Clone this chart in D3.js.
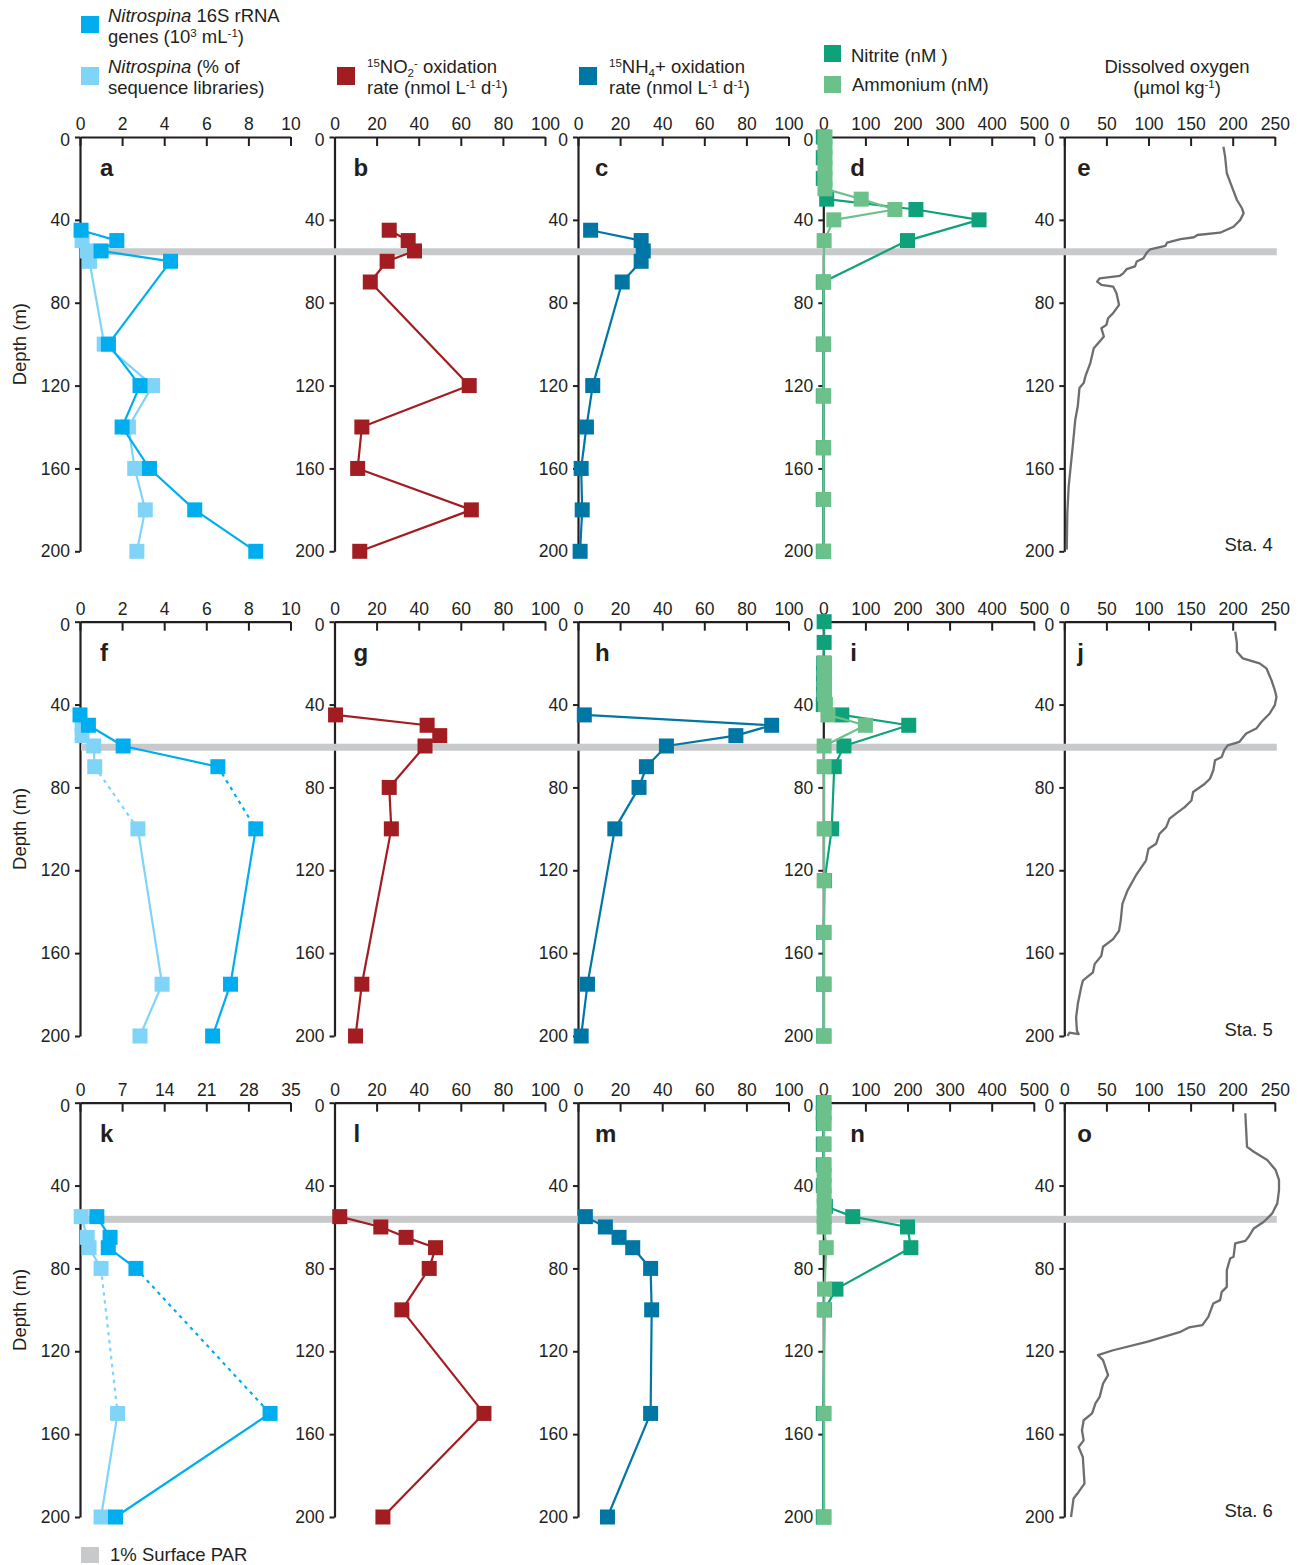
<!DOCTYPE html>
<html>
<head>
<meta charset="utf-8">
<script src="https://cdn.jsdelivr.net/npm/d3@7"></script>
<style>
  body { margin: 0; background: #fff; }
  svg text { font-family: "Liberation Sans", Arial, Helvetica, sans-serif; fill: #231f20; }
</style>
</head>
<body>
<svg id="chart" width="1306" height="1565"></svg>
<script>
// ---------- tick values ----------
const depthTicks    = [0, 40, 80, 120, 160, 200];
const geneTicks     = [0, 2, 4, 6, 8, 10];
const geneTicksSta6 = [0, 7, 14, 21, 28, 35];
const rateTicks     = [0, 20, 40, 60, 80, 100];
const nutrientTicks = [0, 100, 200, 300, 400, 500];
const oxygenTicks   = [0, 50, 100, 150, 200, 250];

// ---------- station labels and 1% surface PAR depth ----------
const stations = ["Sta. 4", "Sta. 5", "Sta. 6"];
const parDepth = [55.4, 60.6, 56.3];
const panelLetters = [["a","b","c","d","e"], ["f","g","h","i","j"], ["k","l","m","n","o"]];

// ---------- Station 4: [depth (m), value] ----------
const sta4Genes = [[45,0.05],[50,1.75],[55,1.0],[60,4.3],[100,1.35],[120,2.85],[140,2.0],[160,3.3],[180,5.45],[200,8.35]];
const sta4Pct   = [[50,0.1],[55,0.35],[60,0.45],[100,1.15],[120,3.45],[140,2.3],[160,2.6],[180,3.1],[200,2.7]];
const sta4NO2ox = [[45,26],[50,35],[55,38],[60,25],[70,17],[120,64],[140,13],[160,11],[180,65],[200,12]];
const sta4NH4ox = [[45,6],[50,30],[55,31],[60,30],[70,21],[120,7],[140,4],[160,1.5],[180,2],[200,1]];
const sta4Nitrite  = [[0,0],[10,0],[20,0],[30,8],[35,220],[40,370],[50,200],[70,0],[100,0],[125,0],[150,0],[175,0],[200,0]];
const sta4Ammonium = [[0,4],[5,4],[10,4],[15,4],[20,4],[25,4],[30,90],[35,170],[40,25],[50,2],[70,1],[100,1],[125,1],[150,1],[175,1],[200,1]];
const sta4Oxygen = [[4.7,189],[9.5,191],[17.5,193],[24,199],[30.4,205],[34.4,211],[36.8,213],[40,209],[43.3,201],[46.2,185],[47.3,158],[48.4,154],[49.3,138],[51,122],[52.6,120],[54.2,102],[55.8,98],[58.5,94],[60.1,86],[62.5,84],[63.8,74],[65.8,70],[67,66],[68.2,42],[69.8,39],[71.4,44],[72.2,58],[75.4,62],[81,65],[85,58],[87.5,52],[90.7,50],[92.3,44],[96.3,47],[98.7,42],[102,35],[109,31],[115.6,25],[118.8,23],[121.2,18],[130,16],[136.5,13],[149.4,10],[159,7.6],[168.7,5.2],[181.5,3.6],[199.2,2.9]];

// ---------- Station 5 ----------
const sta5Genes = [[45,0],[50,0.4],[60,2.05],[70,6.55],[100,8.35],[175,7.15],[200,6.3]];
const sta5Pct   = [[50,0.1],[55,0.1],[60,0.65],[70,0.7],[100,2.75],[175,3.9],[200,2.85]];
const sta5Gap   = [70, 100];   // unsampled interval drawn dotted
const sta5NO2ox = [[45,0.5],[50,44],[55,50],[60,43],[80,26],[100,27],[175,13],[200,10]];
const sta5NH4ox = [[45,3],[50,92],[55,75],[60,42],[70,32.5],[80,29],[100,17.5],[175,4.5],[200,1.5]];
const sta5Nitrite  = [[0,2],[10,2],[20,1],[25,1],[30,1],[35,1],[40,0],[45,44],[50,203],[60,49],[70,26],[100,20],[125,3],[150,1],[175,1],[200,1]];
const sta5Ammonium = [[20,3],[25,3],[30,3],[35,3],[40,5],[45,11],[50,100],[60,2],[70,2],[100,2],[125,2],[150,2],[175,2],[200,2]];
const sta5Oxygen = [[4.8,203],[10.5,205],[14.5,205],[17.7,212],[20.1,232],[22.5,240],[28.2,246],[33,250],[36.3,252],[40.3,250],[44.3,244],[48.4,234],[51.6,228],[54,216],[58,208],[59.7,194],[62,190],[65.3,187],[66.9,179],[71.7,177],[75.8,173],[78.2,167],[82.2,153],[86.3,151],[89.5,143],[91.9,135],[95.1,125],[99.2,121],[102.4,113],[107.2,109],[109.6,100],[115.3,97],[122.5,85],[129.8,75],[136.2,69],[144.3,67],[149.2,65],[153.2,58],[156.9,46],[161.3,44],[165.3,36],[169.3,34],[173.3,22],[176.6,20],[184.6,16],[191.1,14],[197.5,15],[199.1,17],[198.4,6],[200,4]];

// ---------- Station 6 ----------
const sta6Genes = [[55,2.8],[65,5],[70,4.7],[80,9.3],[150,31.6],[200,5.9]];
const sta6Pct   = [[55,0.2],[65,1.2],[70,1.5],[80,3.5],[150,6.25],[200,3.5]];
const sta6Gap   = [80, 150];
const sta6NO2ox = [[55,2.5],[60,22],[65,34],[70,48],[80,45],[100,32],[150,71],[200,23]];
const sta6NH4ox = [[55,3.5],[60,13],[65,19.5],[70,26],[80,34.5],[100,35],[150,34.5],[200,14]];
const sta6Nitrite  = [[0,0],[5,0],[10,0],[20,0],[30,0],[40,0],[50,5],[55,70],[60,200],[70,208],[90,30],[100,3],[150,0],[200,0]];
const sta6Ammonium = [[0,2],[5,2],[10,2],[20,2],[30,2],[35,2],[40,2],[45,2],[50,2],[55,2],[60,2],[70,7],[90,3],[100,2],[150,2],[200,2]];
const sta6Oxygen = [[5.1,215],[21.3,217],[23.7,225],[27.7,241],[32.5,251],[37.3,255],[42.2,255],[48.6,253],[53.4,247],[57.5,237],[60.7,225],[64.7,219],[66.7,215],[67.9,203],[74.4,201],[75.2,197],[80.8,193],[88.9,193],[91.3,187],[95.3,185],[96.9,177],[103.4,171],[107.4,164],[108.5,148],[110.6,138],[115.5,98],[119.5,58],[121.9,40],[124.3,46],[131.5,52],[135.6,46],[142,42],[145.2,37],[150,33],[153.3,23],[158.1,21],[163,23],[166.2,17],[171,22],[183.9,24],[187.9,17],[191.1,11],[200,8]];

// ---------- colours ----------
const C = {
  genes: "#00aeef", pct: "#80d4f7", no2: "#a21d22", nh4: "#0076a4",
  nitrite: "#0fa27a", ammonium: "#6cc18b", oxygen: "#6d6e71",
  band: "#c8c9cb", ink: "#231f20"
};

// ---------- layout ----------
const colX = [80, 334.5, 578, 823.3, 1064.3];
const panelW = 210.5;
const rowTop = [137, 621.7, 1102.7];
const panelH = 414.3;
const letterDx = [20, 19, 17, 27, 13];
const MARK = 15;
const TICK_FONT = 17.5;
const TEXT_FONT = 18.5;

const svg = d3.select("#chart");
const axisLayer = svg.append("g");
const bandLayer = svg.append("g");
const dataLayer = svg.append("g");
const textLayer = svg.append("g");

function styleAxis(g) {
  g.selectAll("path.domain").attr("stroke", C.ink).attr("stroke-width", 2.2);
  g.selectAll(".tick line").attr("stroke", C.ink).attr("stroke-width", 2);
  g.selectAll(".tick text").attr("font-size", TICK_FONT).attr("fill", C.ink)
    .attr("font-family", '"Liberation Sans", Arial, sans-serif');
}

function makePanel(row, col, xMax, xTicks) {
  const x0 = colX[col], top = rowTop[row];
  const x = d3.scaleLinear().domain([0, xMax]).range([x0, x0 + panelW]);
  const y = d3.scaleLinear().domain([0, 200]).range([top, top + panelH]);

  const gx = axisLayer.append("g").attr("transform", `translate(0,${top})`)
    .call(d3.axisTop(x).tickValues(xTicks).tickSizeInner(-9).tickSizeOuter(0).tickPadding(7));
  styleAxis(gx);
  const gy = axisLayer.append("g").attr("transform", `translate(${x0},0)`)
    .call(d3.axisLeft(y).tickValues(depthTicks).tickSizeInner(5).tickSizeOuter(0).tickPadding(5));
  styleAxis(gy);
  // depth "0" sits just under the top-axis labels at the corner
  gy.selectAll(".tick text").filter(d => d === 0).attr("dy", "0.5em");

  textLayer.append("text")
    .attr("x", x0 + letterDx[col]).attr("y", top + 39)
    .attr("font-size", 24).attr("font-weight", "bold")
    .text(panelLetters[row][col]);
  return { x, y };
}

// profile of squares joined by a line; segments inside a sampling gap are dotted
function drawProfile(p, data, color, gap) {
  const g = dataLayer.append("g");
  for (let i = 0; i < data.length - 1; i++) {
    const a = data[i], b = data[i + 1];
    const dotted = gap && a[0] >= gap[0] && b[0] <= gap[1];
    g.append("line")
      .attr("x1", p.x(a[1])).attr("y1", p.y(a[0]))
      .attr("x2", p.x(b[1])).attr("y2", p.y(b[0]))
      .attr("stroke", color).attr("stroke-width", 2.2)
      .attr("stroke-dasharray", dotted ? "3.5,4.5" : null);
  }
  g.selectAll("rect").data(data).join("rect")
    .attr("x", d => p.x(d[1]) - MARK / 2)
    .attr("y", d => p.y(d[0]) - MARK / 2)
    .attr("width", MARK).attr("height", MARK)
    .attr("fill", color);
}

function drawOxygen(p, data) {
  dataLayer.append("path")
    .datum(data)
    .attr("d", d3.line().x(d => p.x(d[1])).y(d => p.y(d[0])))
    .attr("fill", "none").attr("stroke", C.oxygen).attr("stroke-width", 2.3)
    .attr("stroke-linejoin", "round");
}

const rows = [
  { genes: sta4Genes, pct: sta4Pct, gap: null, geneMax: 10, geneTicks: geneTicks,
    no2: sta4NO2ox, nh4: sta4NH4ox, nitrite: sta4Nitrite, ammonium: sta4Ammonium, oxygen: sta4Oxygen },
  { genes: sta5Genes, pct: sta5Pct, gap: sta5Gap, geneMax: 10, geneTicks: geneTicks,
    no2: sta5NO2ox, nh4: sta5NH4ox, nitrite: sta5Nitrite, ammonium: sta5Ammonium, oxygen: sta5Oxygen },
  { genes: sta6Genes, pct: sta6Pct, gap: sta6Gap, geneMax: 35, geneTicks: geneTicksSta6,
    no2: sta6NO2ox, nh4: sta6NH4ox, nitrite: sta6Nitrite, ammonium: sta6Ammonium, oxygen: sta6Oxygen }
];

rows.forEach((r, i) => {
  const pA = makePanel(i, 0, r.geneMax, r.geneTicks);
  const pB = makePanel(i, 1, 100, rateTicks);
  const pC = makePanel(i, 2, 100, rateTicks);
  const pD = makePanel(i, 3, 500, nutrientTicks);
  const pE = makePanel(i, 4, 250, oxygenTicks);

  // 1% surface PAR band across the whole row
  bandLayer.append("rect")
    .attr("x", colX[0] + 1).attr("width", colX[4] + panelW - colX[0] + 1)
    .attr("y", pA.y(parDepth[i]) - 3.5).attr("height", 7)
    .attr("fill", C.band);

  drawProfile(pA, r.pct, C.pct, r.gap);
  drawProfile(pA, r.genes, C.genes, r.gap);
  drawProfile(pB, r.no2, C.no2);
  drawProfile(pC, r.nh4, C.nh4);
  drawProfile(pD, r.nitrite, C.nitrite);
  drawProfile(pD, r.ammonium, C.ammonium);
  drawOxygen(pE, r.oxygen);

  textLayer.append("text")
    .attr("transform", `translate(26,${rowTop[i] + panelH / 2}) rotate(-90)`)
    .attr("text-anchor", "middle").attr("font-size", TEXT_FONT)
    .text("Depth (m)");

  textLayer.append("text")
    .attr("x", colX[4] + panelW - 2).attr("y", rowTop[i] + panelH)
    .attr("text-anchor", "end").attr("font-size", TEXT_FONT)
    .text(stations[i]);
});

// ---------- legend ----------
function richText(x, y, parts, anchor) {
  const t = textLayer.append("text").attr("x", x).attr("y", y)
    .attr("font-size", TEXT_FONT).attr("text-anchor", anchor || "start");
  let cur = 0;
  parts.forEach(p => {
    const target = p.sup ? -6 : p.sub ? 3.5 : 0;
    t.append("tspan")
      .attr("dy", target - cur)
      .attr("font-size", p.sup || p.sub ? 11.5 : TEXT_FONT)
      .attr("font-style", p.it ? "italic" : null)
      .text(p.t);
    cur = target;
  });
}

function legendSquare(x, y, color, w, h) {
  textLayer.append("rect").attr("x", x).attr("y", y)
    .attr("width", w || 18).attr("height", h || 18).attr("fill", color);
}

legendSquare(81, 16, C.genes, 18, 17);
richText(108, 22, [{ t: "Nitrospina", it: true }, { t: " 16S rRNA" }]);
richText(108, 43, [{ t: "genes (10" }, { t: "3", sup: true }, { t: " mL" }, { t: "-1", sup: true }, { t: ")" }]);

legendSquare(81, 67, C.pct);
richText(108, 73, [{ t: "Nitrospina", it: true }, { t: " (% of" }]);
richText(108, 94, [{ t: "sequence libraries)" }]);

legendSquare(337, 67, C.no2);
richText(367, 73, [{ t: "15", sup: true }, { t: "NO" }, { t: "2", sub: true }, { t: "-", sup: true }, { t: " oxidation" }]);
richText(367, 94, [{ t: "rate (nmol L" }, { t: "-1", sup: true }, { t: " d" }, { t: "-1", sup: true }, { t: ")" }]);

legendSquare(579, 67, C.nh4);
richText(609, 73, [{ t: "15", sup: true }, { t: "NH" }, { t: "4", sub: true }, { t: "+ oxidation" }]);
richText(609, 94, [{ t: "rate (nmol L" }, { t: "-1", sup: true }, { t: " d" }, { t: "-1", sup: true }, { t: ")" }]);

legendSquare(824, 45, C.nitrite, 17, 17);
richText(851, 62, [{ t: "Nitrite (nM )" }]);
legendSquare(824, 76, C.ammonium, 17, 17);
richText(852, 91, [{ t: "Ammonium (nM)" }]);

richText(1177, 73, [{ t: "Dissolved oxygen" }], "middle");
richText(1177, 94, [{ t: "(\u00b5mol kg" }, { t: "-1", sup: true }, { t: ")" }], "middle");

legendSquare(81, 1547, C.band, 18, 16);
richText(110, 1561, [{ t: "1% Surface PAR" }]);
</script>
</body>
</html>
